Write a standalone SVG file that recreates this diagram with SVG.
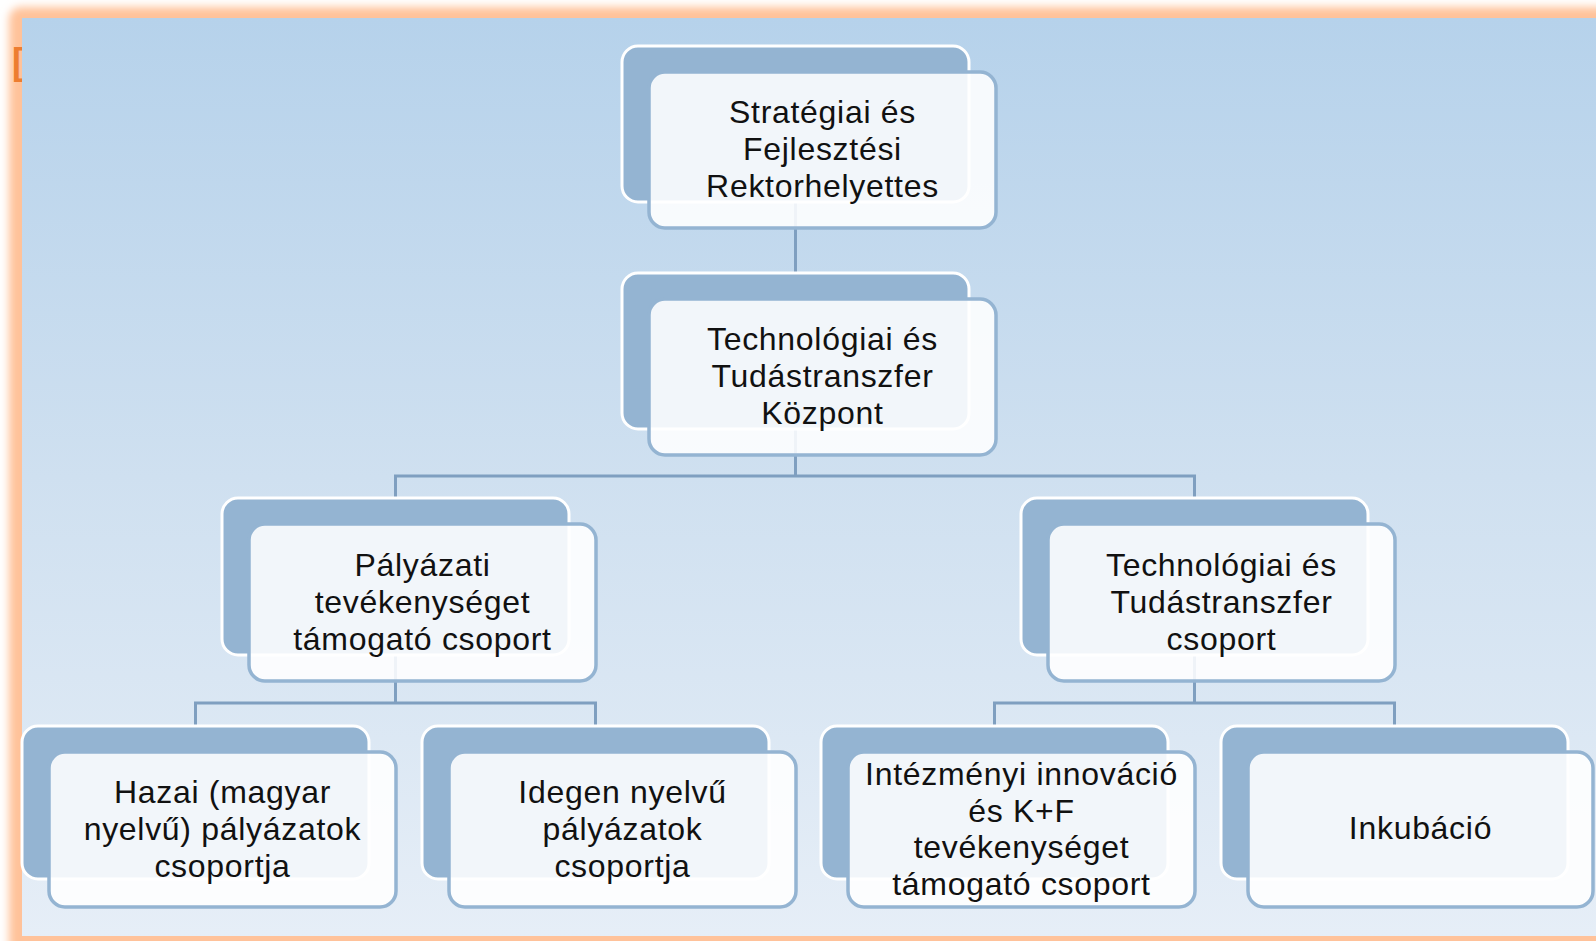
<svg xmlns="http://www.w3.org/2000/svg" width="1596" height="941" viewBox="0 0 1596 941">
<defs>
<linearGradient id="bg" x1="0" y1="0" x2="0" y2="1">
<stop offset="0" stop-color="#B6D2EB"/>
<stop offset="0.5" stop-color="#CFE0F0"/>
<stop offset="1" stop-color="#E6EEF7"/>
</linearGradient>
<filter id="glow" x="-5%" y="-5%" width="110%" height="110%">
<feGaussianBlur stdDeviation="4"/>
</filter>
<style>
.back{fill:#94B4D2;stroke:#FFFFFF;stroke-width:3}
.front{fill:#FFFFFF;fill-opacity:0.88;stroke:#94B4D2;stroke-width:3.5}
.lbl{font-family:"Liberation Sans",Arial,sans-serif;font-size:32px;fill:#111111;text-anchor:middle;letter-spacing:0.7px}
.conn{fill:none;stroke:#7F9FC0;stroke-width:3}
</style>
</defs>
<rect x="0" y="0" width="1596" height="941" fill="#FFFFFF"/>
<rect x="9" y="7" width="1620" height="960" rx="12" fill="#FFC29A" filter="url(#glow)"/>
<text x="12" y="74" font-family="Liberation Sans,Arial,sans-serif" font-size="36" font-weight="bold" fill="#ED7D31">[</text>
<rect x="22" y="18" width="1580" height="918" fill="url(#bg)"/>
<g id="connectors" class="conn">
<path d="M795.5 202 V273"/>
<path d="M795.5 430 V476 M395.5 498 V476 H1194.5 V498"/>
<path d="M395.5 655 V703 M195.5 726 V703 H595.5 V726"/>
<path d="M1194.5 655 V703 M994.5 726 V703 H1394.5 V726"/>
</g>
<g id="node-a">
<rect class="back" x="622" y="46" width="347" height="156" rx="16"/>
<rect class="front" x="649" y="72" width="347" height="156" rx="16"/>
<text class="lbl" x="822.5" y="123">Stratégiai és</text>
<text class="lbl" x="822.5" y="160">Fejlesztési</text>
<text class="lbl" x="822.5" y="197">Rektorhelyettes</text>
</g>
<g id="node-b">
<rect class="back" x="622" y="273" width="347" height="156" rx="16"/>
<rect class="front" x="649" y="299" width="347" height="156" rx="16"/>
<text class="lbl" x="822.5" y="350">Technológiai és</text>
<text class="lbl" x="822.5" y="387">Tudástranszfer</text>
<text class="lbl" x="822.5" y="424">Központ</text>
</g>
<g id="node-c">
<rect class="back" x="222" y="498" width="347" height="157" rx="16"/>
<rect class="front" x="249" y="524" width="347" height="157" rx="16"/>
<text class="lbl" x="422.5" y="576">Pályázati</text>
<text class="lbl" x="422.5" y="613">tevékenységet</text>
<text class="lbl" x="422.5" y="650">támogató csoport</text>
</g>
<g id="node-d">
<rect class="back" x="1021" y="498" width="347" height="157" rx="16"/>
<rect class="front" x="1048" y="524" width="347" height="157" rx="16"/>
<text class="lbl" x="1221.5" y="576">Technológiai és</text>
<text class="lbl" x="1221.5" y="613">Tudástranszfer</text>
<text class="lbl" x="1221.5" y="650">csoport</text>
</g>
<g id="node-e">
<rect class="back" x="22" y="726" width="347" height="153" rx="16"/>
<rect class="front" x="49" y="752" width="347" height="155" rx="16"/>
<text class="lbl" x="222.5" y="803">Hazai (magyar</text>
<text class="lbl" x="222.5" y="840">nyelvű) pályázatok</text>
<text class="lbl" x="222.5" y="877">csoportja</text>
</g>
<g id="node-f">
<rect class="back" x="422" y="726" width="347" height="153" rx="16"/>
<rect class="front" x="449" y="752" width="347" height="155" rx="16"/>
<text class="lbl" x="622.5" y="803">Idegen nyelvű</text>
<text class="lbl" x="622.5" y="840">pályázatok</text>
<text class="lbl" x="622.5" y="877">csoportja</text>
</g>
<g id="node-g">
<rect class="back" x="821" y="726" width="347" height="153" rx="16"/>
<rect class="front" x="848" y="752" width="347" height="155" rx="16"/>
<text class="lbl" x="1021.5" y="785">Intézményi innováció</text>
<text class="lbl" x="1021.5" y="822">és K+F</text>
<text class="lbl" x="1021.5" y="858">tevékenységet</text>
<text class="lbl" x="1021.5" y="895">támogató csoport</text>
</g>
<g id="node-h">
<rect class="back" x="1221" y="726" width="347" height="153" rx="16"/>
<rect class="front" x="1248" y="752" width="345" height="155" rx="16"/>
<text class="lbl" x="1420.5" y="839">Inkubáció</text>
</g>
</svg>
